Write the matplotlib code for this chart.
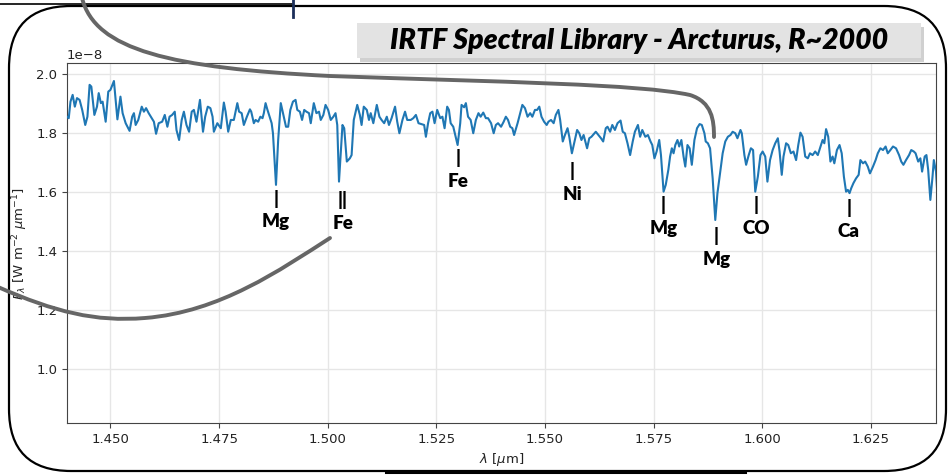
import matplotlib
matplotlib.use("Agg")
import numpy as np
import matplotlib.pyplot as plt
from matplotlib.patches import FancyBboxPatch, Rectangle, PathPatch
from matplotlib.path import Path
from matplotlib.transforms import Affine2D
from matplotlib.lines import Line2D

# ---------------- data ----------------
wavelength = [
    1.4400, 1.4404, 1.4408, 1.4413, 1.4418, 1.4423, 1.4429, 1.4435, 1.4442, 1.4447,
    1.4452, 1.4456, 1.4463, 1.4469, 1.4473, 1.4478, 1.4482, 1.4489, 1.4495, 1.4500,
    1.4508, 1.4516, 1.4523, 1.4528, 1.4535, 1.4544, 1.4550, 1.4554, 1.4558, 1.4564,
    1.4572, 1.4577, 1.4582, 1.4588, 1.4595, 1.4600, 1.4605, 1.4611, 1.4619, 1.4625,
    1.4631, 1.4636, 1.4642, 1.4648, 1.4652, 1.4658, 1.4664, 1.4669, 1.4675, 1.4681,
    1.4687, 1.4692, 1.4698, 1.4706, 1.4713, 1.4718, 1.4724, 1.4730, 1.4735, 1.4738,
    1.4746, 1.4754, 1.4761, 1.4765, 1.4771, 1.4777, 1.4784, 1.4792, 1.4796, 1.4802,
    1.4807, 1.4814, 1.4821, 1.4824, 1.4830, 1.4834, 1.4840, 1.4845, 1.4850, 1.4853,
    1.4857, 1.4861, 1.4871, 1.4874, 1.4881, 1.4886, 1.4892, 1.4897, 1.4904, 1.4909,
    1.4914, 1.4920, 1.4926, 1.4930, 1.4936, 1.4941, 1.4946, 1.4951, 1.4957, 1.4961,
    1.4968, 1.4974, 1.4980, 1.4984, 1.4990, 1.4995, 1.5001, 1.5007, 1.5013, 1.5018,
    1.5022, 1.5026, 1.5030, 1.5034, 1.5038, 1.5044, 1.5051, 1.5055, 1.5060, 1.5068,
    1.5074, 1.5078, 1.5083, 1.5090, 1.5095, 1.5099, 1.5105, 1.5113, 1.5119, 1.5124,
    1.5130, 1.5136, 1.5141, 1.5147, 1.5155, 1.5160, 1.5165, 1.5172, 1.5178, 1.5183,
    1.5191, 1.5197, 1.5203, 1.5209, 1.5222, 1.5226, 1.5231, 1.5236, 1.5241, 1.5246,
    1.5252, 1.5259, 1.5264, 1.5269, 1.5275, 1.5279, 1.5283, 1.5289, 1.5299, 1.5305,
    1.5308, 1.5314, 1.5318, 1.5323, 1.5329, 1.5335, 1.5341, 1.5347, 1.5352, 1.5358,
    1.5364, 1.5369, 1.5376, 1.5382, 1.5387, 1.5392, 1.5399, 1.5405, 1.5410, 1.5415,
    1.5420, 1.5425, 1.5429, 1.5437, 1.5443, 1.5448, 1.5454, 1.5460, 1.5466, 1.5471,
    1.5477, 1.5482, 1.5487, 1.5492, 1.5498, 1.5504, 1.5508, 1.5514, 1.5520, 1.5525,
    1.5531, 1.5535, 1.5541, 1.5546, 1.5552, 1.5556, 1.5562, 1.5568, 1.5574, 1.5579,
    1.5584, 1.5589, 1.5597, 1.5602, 1.5607, 1.5617, 1.5623, 1.5629, 1.5634, 1.5640,
    1.5644, 1.5650, 1.5655, 1.5661, 1.5667, 1.5674, 1.5679, 1.5684, 1.5690, 1.5696,
    1.5702, 1.5707, 1.5714, 1.5719, 1.5724, 1.5731, 1.5737, 1.5743, 1.5747, 1.5752,
    1.5757, 1.5763, 1.5767, 1.5773, 1.5778, 1.5784, 1.5788, 1.5792, 1.5796, 1.5800,
    1.5805, 1.5809, 1.5814, 1.5819, 1.5823, 1.5828, 1.5833, 1.5838, 1.5844, 1.5850,
    1.5856, 1.5861, 1.5867, 1.5870, 1.5875, 1.5880, 1.5886, 1.5892, 1.5897, 1.5904,
    1.5909, 1.5915, 1.5921, 1.5927, 1.5932, 1.5938, 1.5943, 1.5950, 1.5953, 1.5959,
    1.5963, 1.5969, 1.5974, 1.5979, 1.5984, 1.5990, 1.5996, 1.6001, 1.6007, 1.6012,
    1.6018, 1.6024, 1.6030, 1.6036, 1.6040, 1.6045, 1.6049, 1.6055, 1.6060, 1.6066,
    1.6072, 1.6078, 1.6083, 1.6088, 1.6093, 1.6099, 1.6105, 1.6110, 1.6116, 1.6122,
    1.6128, 1.6133, 1.6139, 1.6143, 1.6147, 1.6152, 1.6157, 1.6162, 1.6166, 1.6172,
    1.6178, 1.6183, 1.6188, 1.6193, 1.6197, 1.6201, 1.6205, 1.6210, 1.6216, 1.6222,
    1.6226, 1.6232, 1.6237, 1.6243, 1.6248, 1.6255, 1.6261, 1.6266, 1.6272, 1.6278,
    1.6284, 1.6289, 1.6295, 1.6301, 1.6308, 1.6315, 1.6320, 1.6325, 1.6331, 1.6338,
    1.6343, 1.6349, 1.6353, 1.6359, 1.6364, 1.6368, 1.6374, 1.6378, 1.6382, 1.6387,
    1.6392, 1.6395, 1.6400, 1.6403,
]
# flux in units of 1e-8 W m^-2 um^-1
flux = [
    1.855, 1.850, 1.906, 1.929, 1.889, 1.918, 1.912, 1.878, 1.827, 1.855,
    1.963, 1.957, 1.861, 1.889, 1.935, 1.901, 1.906, 1.838, 1.940, 1.946,
    1.976, 1.846, 1.923, 1.867, 1.833, 1.807, 1.855, 1.867, 1.827, 1.844,
    1.889, 1.872, 1.884, 1.867, 1.850, 1.838, 1.797, 1.833, 1.838, 1.861,
    1.821, 1.855, 1.861, 1.872, 1.810, 1.776, 1.844, 1.872, 1.827, 1.804,
    1.872, 1.878, 1.838, 1.912, 1.804, 1.855, 1.889, 1.884, 1.855, 1.804,
    1.833, 1.816, 1.903, 1.872, 1.804, 1.844, 1.844, 1.901, 1.872, 1.867,
    1.827, 1.855, 1.880, 1.872, 1.833, 1.844, 1.838, 1.855, 1.850, 1.867,
    1.901, 1.880, 1.833, 1.799, 1.624, 1.776, 1.901, 1.867, 1.821, 1.821,
    1.878, 1.906, 1.912, 1.878, 1.872, 1.844, 1.878, 1.872, 1.867, 1.833,
    1.901, 1.867, 1.872, 1.844, 1.861, 1.895, 1.878, 1.844, 1.855, 1.867,
    1.827, 1.635, 1.731, 1.827, 1.816, 1.703, 1.714, 1.725, 1.844, 1.895,
    1.861, 1.827, 1.889, 1.878, 1.844, 1.867, 1.833, 1.895, 1.855, 1.844,
    1.833, 1.855, 1.827, 1.850, 1.889, 1.838, 1.799, 1.844, 1.872, 1.844,
    1.844, 1.850, 1.861, 1.833, 1.827, 1.787, 1.833, 1.867, 1.872, 1.833,
    1.878, 1.850, 1.855, 1.816, 1.889, 1.878, 1.833, 1.821, 1.759, 1.833,
    1.895, 1.887, 1.901, 1.855, 1.844, 1.799, 1.844, 1.867, 1.855, 1.869,
    1.850, 1.850, 1.833, 1.799, 1.827, 1.833, 1.821, 1.838, 1.855, 1.844,
    1.821, 1.816, 1.793, 1.833, 1.867, 1.895, 1.884, 1.855, 1.867, 1.855,
    1.878, 1.878, 1.889, 1.855, 1.838, 1.827, 1.838, 1.844, 1.833, 1.861,
    1.878, 1.844, 1.771, 1.793, 1.816, 1.787, 1.731, 1.771, 1.810, 1.799,
    1.776, 1.793, 1.748, 1.782, 1.787, 1.804, 1.793, 1.782, 1.771, 1.816,
    1.821, 1.804, 1.827, 1.810, 1.833, 1.842, 1.804, 1.799, 1.765, 1.725,
    1.771, 1.804, 1.827, 1.787, 1.810, 1.787, 1.793, 1.771, 1.759, 1.714,
    1.737, 1.776, 1.725, 1.601, 1.624, 1.675, 1.720, 1.748, 1.731, 1.759,
    1.776, 1.754, 1.776, 1.720, 1.686, 1.759, 1.748, 1.692, 1.776, 1.816,
    1.830, 1.827, 1.799, 1.771, 1.765, 1.748, 1.646, 1.505, 1.596, 1.675,
    1.731, 1.771, 1.787, 1.793, 1.804, 1.799, 1.782, 1.810, 1.799, 1.725,
    1.692, 1.725, 1.748, 1.742, 1.601, 1.652, 1.725, 1.737, 1.720, 1.635,
    1.708, 1.742, 1.765, 1.782, 1.737, 1.658, 1.720, 1.765, 1.759, 1.731,
    1.737, 1.708, 1.759, 1.801, 1.787, 1.720, 1.714, 1.731, 1.725, 1.737,
    1.725, 1.748, 1.776, 1.765, 1.813, 1.787, 1.703, 1.720, 1.697, 1.742,
    1.759, 1.731, 1.652, 1.601, 1.607, 1.596, 1.613, 1.630, 1.646, 1.658,
    1.708, 1.697, 1.703, 1.686, 1.663, 1.686, 1.708, 1.731, 1.748, 1.742,
    1.754, 1.731, 1.742, 1.754, 1.748, 1.725, 1.703, 1.692, 1.708, 1.725,
    1.742, 1.737, 1.731, 1.703, 1.714, 1.669, 1.720, 1.725, 1.675, 1.573,
    1.652, 1.708, 1.669, 1.596,
]

x_ticks = [1.450, 1.475, 1.500, 1.525, 1.550, 1.575, 1.600, 1.625]
y_ticks = [1.0, 1.2, 1.4, 1.6, 1.8, 2.0]

line_names = ["Mg", "Fe", "Fe", "Ni", "Mg", "Mg", "CO", "Ca"]
line_marks = ["|", "||", "|", "|", "|", "|", "|", "|"]
line_wavelengths = [1.4881, 1.5035, 1.5300, 1.5563, 1.5773, 1.5895, 1.5987, 1.6199]
label_tops = [1.608, 1.603, 1.745, 1.702, 1.585, 1.480, 1.585, 1.576]

title = "IRTF Spectral Library - Arcturus, R~2000"

# ---------------- figure ----------------
W, H = 951, 475
fig = plt.figure(figsize=(W / 100, H / 100), dpi=100)
fig.patch.set_facecolor("white")
# pixel transform: (x from left, y from top) in image pixels
px = Affine2D().scale(1 / 100, -1 / 100).translate(0, H / 100) + fig.dpi_scale_trans

ax = fig.add_axes([67 / W, 1 - 423 / H, 869 / W, 360 / H])
scale = 1e-8
ax.plot(wavelength, np.array(flux) * scale, color="#1f77b4", lw=1.5, zorder=3)
ax.set_xlim(1.44, 1.64)
ax.set_ylim(0.817 * scale, 2.037 * scale)
ax.set_xticks(x_ticks)
ax.set_yticks(np.array(y_ticks) * scale)
ax.grid(True, color="#e6e6e6", lw=1.0)
ax.set_axisbelow(True)
for s in ax.spines.values():
    s.set_color("#444444")
ax.tick_params(labelsize=9.5, colors="#444444", labelcolor="#222222")
ax.yaxis.get_offset_text().set_fontsize(9.5)
ax.yaxis.get_offset_text().set_color("#222222")
ax.set_xlabel(r"$\lambda$ [$\mu$m]", fontsize=9.5, color="#222222", labelpad=4)
ax.set_ylabel(r"$F_\lambda$ [W m$^{-2}$ $\mu$m$^{-1}$]", fontsize=9.5, color="#222222")
ax.yaxis.set_label_coords(-0.043, 0.5)

for name, mark, wl, top in zip(line_names, line_marks, line_wavelengths, label_tops):
    ax.text(wl, top * scale, mark + "\n" + name, ha="center", va="top",
            family="Lato", fontweight="heavy", fontsize=13.5, linespacing=1.42,
            color="black", zorder=5)

# ---------------- slide decorations ----------------
# outer rounded frame
frame = FancyBboxPatch((9, 6), 937, 465, boxstyle="round,pad=0,rounding_size=62",
                       transform=px, fill=False, edgecolor="black", lw=1.6, zorder=20)
fig.add_artist(frame)
# neighbouring elements
fig.add_artist(Line2D([0, 292], [4, 4], transform=px, color="black", lw=1.2, zorder=20))
fig.add_artist(Line2D([293, 293], [0, 17], transform=px, color="#1c2f5a", lw=2.0, zorder=20))
fig.add_artist(Line2D([386, 745], [472, 472], transform=px, color="black", lw=2.2, zorder=20))

# title box with shadow
fig.add_artist(Rectangle((360, 27), 564, 35, transform=px, facecolor="#bdbdbd",
                         edgecolor="none", alpha=0.7, zorder=18))
fig.add_artist(Rectangle((357, 23), 564, 35, transform=px, facecolor="#e3e3e3",
                         edgecolor="none", zorder=19))
fig.text(639, 41, title, transform=px, ha="center", va="center", family="Lato",
         fontweight="heavy", style="italic", fontsize=20.5, color="black", zorder=21)

# grey connector curves
curve1 = Path([(82, -2), (95, 50), (170, 68), (330, 76),
               (500, 82), (640, 84), (690, 95),
               (712, 102), (714, 120), (714, 137)],
              [Path.MOVETO, Path.CURVE4, Path.CURVE4, Path.CURVE4,
               Path.CURVE4, Path.CURVE4, Path.CURVE4,
               Path.CURVE4, Path.CURVE4, Path.CURVE4])
curve2 = Path([(-2, 287), (55, 312), (95, 322), (145, 318),
               (220, 312), (280, 270), (330, 238)],
              [Path.MOVETO, Path.CURVE4, Path.CURVE4, Path.CURVE4,
               Path.CURVE4, Path.CURVE4, Path.CURVE4])
for c in (curve1, curve2):
    fig.add_artist(PathPatch(c, transform=px, fill=False, edgecolor="#666666",
                             lw=2.8, capstyle="round", zorder=22))

fig.savefig("out.png", dpi=100, facecolor="white")
